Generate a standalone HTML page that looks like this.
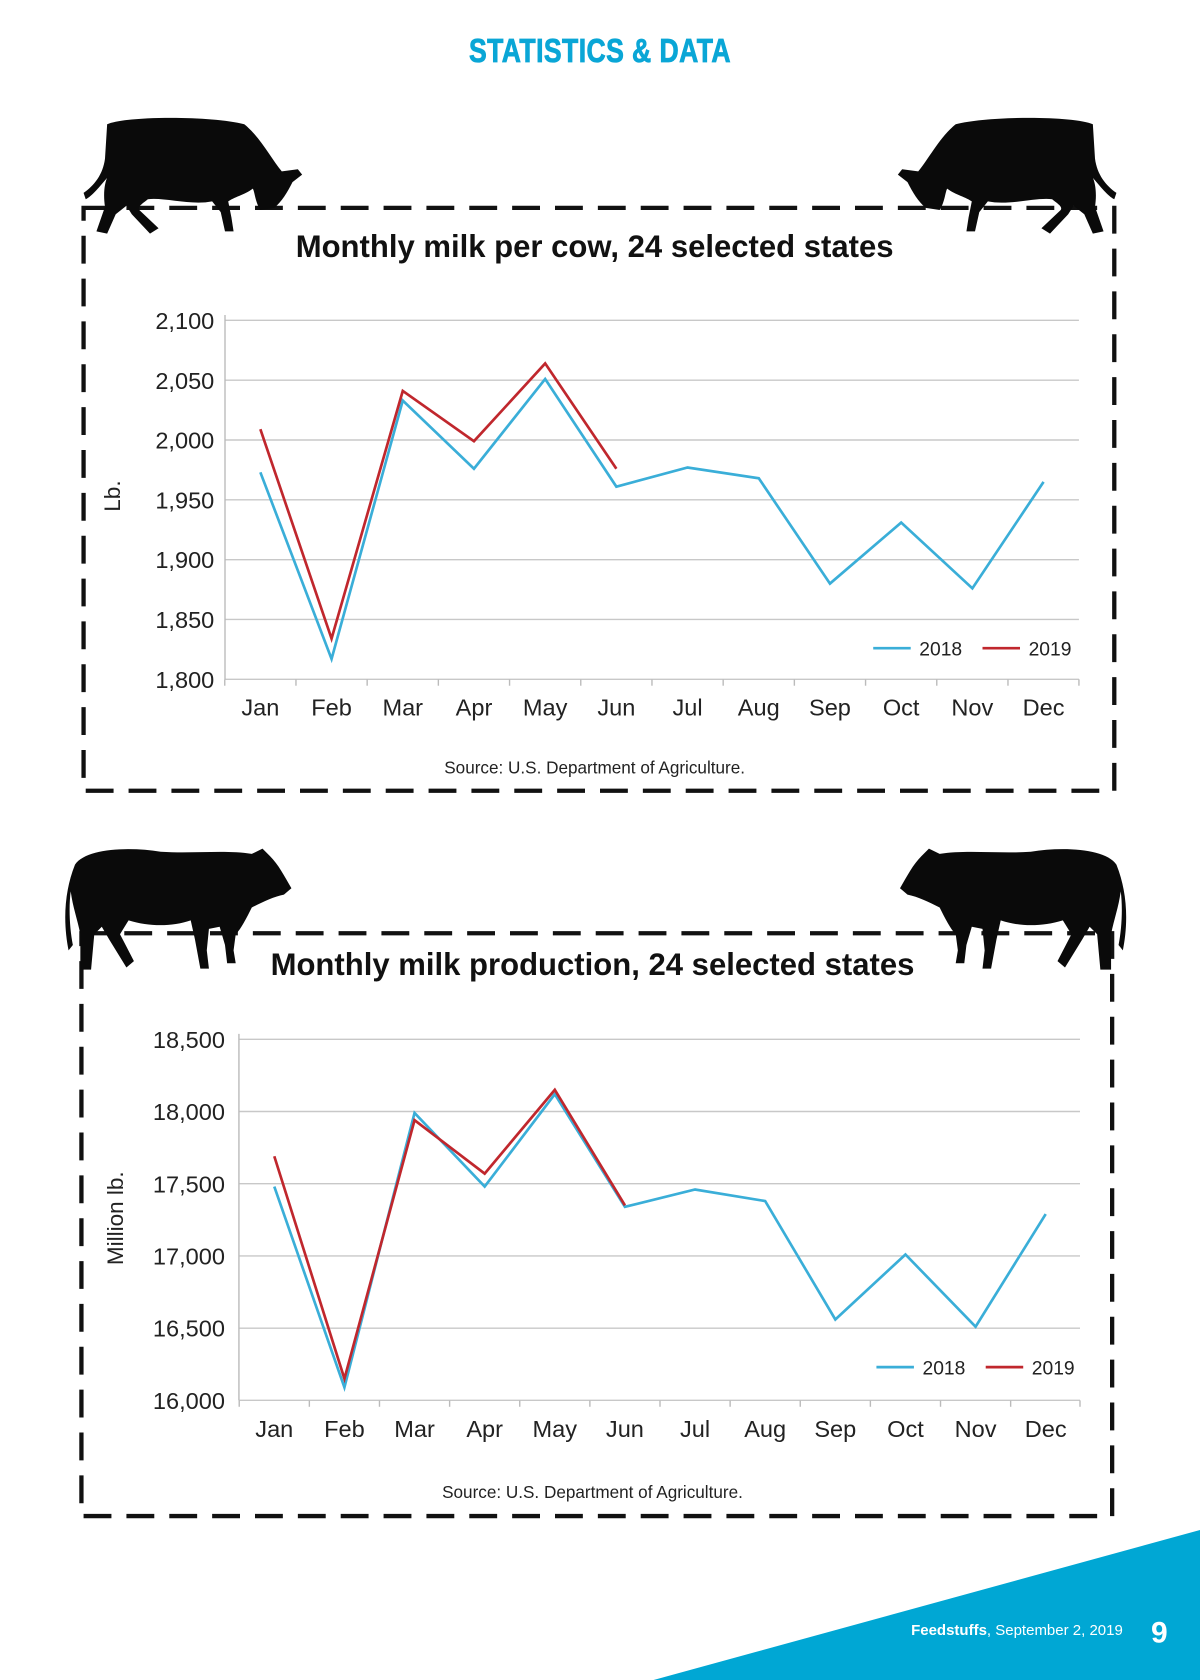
<!DOCTYPE html>
<html><head><meta charset="utf-8"><style>
html,body{margin:0;padding:0;background:#fff;}
svg{display:block;}
text{font-family:"Liberation Sans",Arial,sans-serif;}
</style></head><body>
<svg id="page" width="1200" height="1680" viewBox="0 0 1120 1568" xmlns="http://www.w3.org/2000/svg">
<text x="560" y="58" text-anchor="middle" font-size="31" font-weight="bold" fill="#0aa6d6" stroke="#0aa6d6" stroke-width="0.8" transform="translate(560,0) scale(0.8,1) translate(-560,0)" style="letter-spacing:0.5px">STATISTICS &amp; DATA</text>
<defs>
<path id="graze" d="M22,8 C40,0 120,0 150,8 C165,20 175,40 185,52 L200,50 L204,55 L195,62 C190,72 185,80 178,86 L165,88 C160,80 160,72 158,68 C150,74 140,76 135,80 L138,95 L140,108 L132,108 L128,90 L120,80 C100,84 75,76 60,78 C55,82 50,85 52,88 L70,105 L62,110 L45,92 L40,84 L30,92 L22,110 L12,108 L20,85 C18,72 20,62 22,58 C15,66 8,75 2,78 L0,72 C10,65 18,55 20,40 Z"/>
<path id="stand" d="M10,20 C20,5 60,3 90,8 C120,10 150,6 175,10 L185,5 L192,12 C200,20 205,30 212,42 L205,48 C195,50 185,55 175,60 C170,70 165,80 160,85 L158,100 L160,112 L152,112 L150,95 L145,78 L135,80 L133,100 L135,117 L127,117 L122,90 L118,72 C100,78 80,78 60,72 L52,85 L65,110 L58,116 L42,90 L35,78 L28,85 L25,118 L15,118 L15,85 C12,70 8,60 6,45 C4,60 5,80 8,95 L4,100 C0,80 -2,50 10,20 Z"/>
</defs>
<rect x="78" y="194" width="962" height="544" fill="none" stroke="#111" stroke-width="4" stroke-dasharray="26,14"/>
<rect x="76" y="871" width="962" height="544" fill="none" stroke="#111" stroke-width="4" stroke-dasharray="26,14"/>
<use href="#graze" transform="translate(78,108)" fill="#0a0a0a"/>
<use href="#graze" transform="translate(1042,108) scale(-1,1)" fill="#0a0a0a"/>
<use href="#stand" transform="translate(60,787)" fill="#0a0a0a"/>
<use href="#stand" transform="translate(1052,787) scale(-1,1)" fill="#0a0a0a"/>
<g id="c1"></g>
<g id="c2"></g>
<polygon points="610,1568 1120,1428 1120,1568" fill="#00a7d4"/>
<text x="1048" y="1526" text-anchor="end" font-size="14" fill="#fff"><tspan font-weight="bold">Feedstuffs</tspan>, September 2, 2019</text>
<text x="1082" y="1533" text-anchor="middle" font-size="28" font-weight="bold" fill="#fff">9</text>
</svg>
<script>
const months = ["Jan","Feb","Mar","Apr","May","Jun","Jul","Aug","Sep","Oct","Nov","Dec"];
const cow2018 = [1973,1817,2033,1976,2051,1961,1977,1968,1880,1931,1876,1965];
const cow2019 = [2009,1834,2041,1999,2064,1976];
const cowTicks = [1800,1850,1900,1950,2000,2050,2100];
const cowTickLabels = ["1,800","1,850","1,900","1,950","2,000","2,050","2,100"];
const prod2018 = [17480,16090,17990,17480,18120,17340,17460,17380,16560,17010,16510,17290];
const prod2019 = [17690,16150,17940,17570,18150,17350];
const prodTicks = [16000,16500,17000,17500,18000,18500];
const prodTickLabels = ["16,000","16,500","17,000","17,500","18,000","18,500"];

const NS="http://www.w3.org/2000/svg";
function mk(parent,tag,attrs,txt){const e=document.createElementNS(NS,tag);for(const k in attrs)e.setAttribute(k,attrs[k]);if(txt!=null)e.textContent=txt;parent.appendChild(e);return e;}

function drawChart(g,cfg){
  const x=i=>cfg.x0+i*(cfg.x1-cfg.x0)/11;
  const y=v=>cfg.yB+(v-cfg.vMin)*(cfg.yT-cfg.yB)/(cfg.vMax-cfg.vMin);
  let t=mk(g,"text",{x:cfg.cx,y:cfg.titleY,"text-anchor":"middle","font-size":29,"font-weight":"bold",fill:"#111"},cfg.title);
  
  
  cfg.ticks.forEach((v,i)=>{
    const l=mk(g,"line",{x1:cfg.pl,x2:cfg.pr,y1:y(v),y2:y(v),stroke:"#c8c8c8","stroke-width":1.3});
    
    
    const tl=mk(g,"text",{x:cfg.pl-cfg.lblGap,y:y(v)+8,"text-anchor":"end","font-size":22,fill:"#222"},cfg.tickLabels[i]);
    
    
  });
  const ax=mk(g,"line",{x1:cfg.pl,x2:cfg.pl,y1:cfg.yT-5,y2:cfg.yB,stroke:"#bbb","stroke-width":1.3});
  
  
  const step=(cfg.x1-cfg.x0)/11;
  for(let i=0;i<=12;i++){
    const xx=cfg.x0-step/2+i*step;
    const tk=mk(g,"line",{x1:Math.min(xx,cfg.pr),x2:Math.min(xx,cfg.pr),y1:cfg.yB,y2:cfg.yB+6,stroke:"#bbb","stroke-width":1.3});
    
    
  }
  months.forEach((m,i)=>{
    const ml=mk(g,"text",{x:x(i),y:cfg.monthY,"text-anchor":"middle","font-size":22,fill:"#222"},m);
    
    
  });
  const yt=mk(g,"text",{x:cfg.ylX,y:cfg.ylY,"text-anchor":"middle","font-size":21,fill:"#222",transform:`rotate(-90 ${cfg.ylX} ${cfg.ylY})`},cfg.yLabel);
  
  
  const s1=mk(g,"polyline",{points:cfg.a.map((v,i)=>x(i)+","+y(v)).join(" "),fill:"none",stroke:"#3aaed8","stroke-width":2.5,"stroke-linejoin":"miter"});
  
  
  const s2=mk(g,"polyline",{points:cfg.b.map((v,i)=>x(i)+","+y(v)).join(" "),fill:"none",stroke:"#c0272d","stroke-width":2.5});
  
  
  const L=cfg.legX, LY=cfg.legY;
  const l1=mk(g,"line",{x1:L,x2:L+35,y1:LY,y2:LY,stroke:"#3aaed8","stroke-width":2.5});
  
  
  const lt1=mk(g,"text",{x:L+43,y:LY+7,"font-size":18,fill:"#222"},"2018");
  
  
  const l2=mk(g,"line",{x1:L+102,x2:L+137,y1:LY,y2:LY,stroke:"#c0272d","stroke-width":2.5});
  
  
  const lt2=mk(g,"text",{x:L+145,y:LY+7,"font-size":18,fill:"#222"},"2019");
  
  
  const src=mk(g,"text",{x:cfg.cx,y:cfg.srcY,"text-anchor":"middle","font-size":16,fill:"#222"},"Source: U.S. Department of Agriculture.");
  
  
}
drawChart(document.getElementById("c1"),{title:"Monthly milk per cow, 24 selected states",cx:555,titleY:240,
  pl:210,pr:1007,x0:243,x1:974,yT:299,yB:634,vMin:1800,vMax:2100,ticks:cowTicks,tickLabels:cowTickLabels,lblGap:10,
  monthY:668,ylX:112,ylY:463,yLabel:"Lb.",a:cow2018,b:cow2019,legX:815,legY:605,srcY:722});
drawChart(document.getElementById("c2"),{title:"Monthly milk production, 24 selected states",cx:553,titleY:910,
  pl:223,pr:1008,x0:256,x1:976,yT:970,yB:1307,vMin:16000,vMax:18500,ticks:prodTicks,tickLabels:prodTickLabels,lblGap:13,
  monthY:1341,ylX:115,ylY:1137,yLabel:"Million lb.",a:prod2018,b:prod2019,legX:818,legY:1276,srcY:1398});
</script>
</body></html>
